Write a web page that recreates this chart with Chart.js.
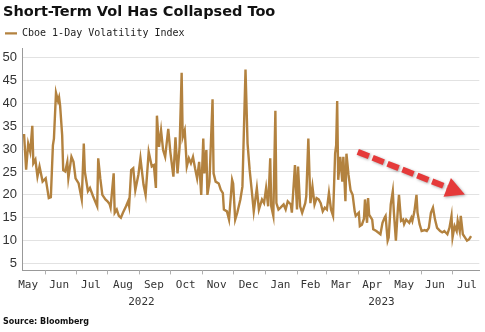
<!DOCTYPE html>
<html><head><meta charset="utf-8">
<script src="https://cdn.jsdelivr.net/npm/chart.js@4.4.0/dist/chart.umd.min.js"></script>
<style>html,body{margin:0;padding:0;background:#fff;}#wrap{width:485px;height:332px;position:relative;}</style>
</head><body><div id="wrap"><canvas id="c"></canvas></div>
<script>
const dates = ["2022-05-12","2022-05-14","2022-05-16","2022-05-18","2022-05-20","2022-05-21","2022-05-23","2022-05-25","2022-05-27","2022-05-30",
"2022-06-02","2022-06-05","2022-06-07","2022-06-09","2022-06-10","2022-06-12","2022-06-14","2022-06-15","2022-06-16","2022-06-18",
"2022-06-19","2022-06-21","2022-06-23","2022-06-24","2022-06-27","2022-06-29","2022-07-01","2022-07-04","2022-07-07","2022-07-09",
"2022-07-10","2022-07-13","2022-07-15","2022-07-18","2022-07-20","2022-07-22","2022-07-23","2022-07-25","2022-07-27","2022-07-30",
"2022-08-01","2022-08-03","2022-08-04","2022-08-07","2022-08-08","2022-08-10","2022-08-12","2022-08-14","2022-08-16","2022-08-19",
"2022-08-21","2022-08-22","2022-08-24","2022-08-26","2022-08-28","2022-08-31","2022-09-02","2022-09-05","2022-09-07","2022-09-10",
"2022-09-13","2022-09-15","2022-09-17","2022-09-18","2022-09-20","2022-09-22","2022-09-24","2022-09-26","2022-09-29","2022-10-01",
"2022-10-04","2022-10-06","2022-10-08","2022-10-10","2022-10-12","2022-10-13","2022-10-15","2022-10-17","2022-10-19","2022-10-21",
"2022-10-23","2022-10-25","2022-10-27","2022-10-29","2022-10-31","2022-11-02","2022-11-03","2022-11-05","2022-11-06","2022-11-08",
"2022-11-11","2022-11-12","2022-11-14","2022-11-17","2022-11-19","2022-11-21","2022-11-22","2022-11-25","2022-11-27","2022-11-30",
"2022-12-01","2022-12-03","2022-12-05","2022-12-08","2022-12-10","2022-12-13","2022-12-15","2022-12-17","2022-12-19","2022-12-21",
"2022-12-24","2022-12-26","2022-12-29","2022-12-31","2023-01-02","2023-01-04","2023-01-06","2023-01-07","2023-01-09","2023-01-11",
"2023-01-12","2023-01-14","2023-01-16","2023-01-19","2023-01-21","2023-01-23","2023-01-26","2023-01-27","2023-01-30","2023-02-01",
"2023-02-02","2023-02-04","2023-02-06","2023-02-09","2023-02-10","2023-02-12","2023-02-14","2023-02-16","2023-02-18","2023-02-20",
"2023-02-22","2023-02-24","2023-02-26","2023-02-28","2023-03-02","2023-03-04","2023-03-06","2023-03-08","2023-03-10","2023-03-11",
"2023-03-12","2023-03-13","2023-03-15","2023-03-17","2023-03-18","2023-03-20","2023-03-21","2023-03-23","2023-03-25","2023-03-27",
"2023-03-29","2023-03-30","2023-04-02","2023-04-03","2023-04-05","2023-04-07","2023-04-08","2023-04-10","2023-04-11","2023-04-12",
"2023-04-15","2023-04-16","2023-04-19","2023-04-23","2023-04-25","2023-04-27","2023-04-28","2023-04-30","2023-05-01","2023-05-03",
"2023-05-05","2023-05-06","2023-05-08","2023-05-10","2023-05-11","2023-05-13","2023-05-15","2023-05-16","2023-05-18","2023-05-21",
"2023-05-23","2023-05-24","2023-05-26","2023-05-28","2023-05-29","2023-05-31","2023-06-02","2023-06-05","2023-06-07","2023-06-09",
"2023-06-11","2023-06-13","2023-06-15","2023-06-17","2023-06-20","2023-06-22","2023-06-24","2023-06-27","2023-06-29","2023-07-01",
"2023-07-02","2023-07-04","2023-07-06","2023-07-07","2023-07-09","2023-07-10","2023-07-12","2023-07-14","2023-07-16","2023-07-18",
"2023-07-20"];
const values = [33.3,25.5,31.2,29.4,35.1,26.9,27.7,24.0,26.2,22.9,
23.6,19.3,19.5,30.8,32.3,42.3,40.5,41.3,39.5,33.0,
25.4,25.1,27.2,23.6,28.3,27.2,23.6,22.5,19.0,31.2,
25.1,20.8,21.5,19.7,18.6,17.5,28.0,23.6,20.0,19.0,
18.6,18.0,17.2,24.7,16.1,16.8,15.4,15.0,16.1,17.5,
18.6,17.5,25.4,25.8,21.0,24.4,28.0,22.2,20.0,29.4,
26.2,26.5,21.5,37.3,30.5,34.1,29.8,28.3,34.4,29.4,
24.0,32.6,24.7,30.5,46.7,32.6,34.1,26.2,28.0,26.9,
28.3,25.8,23.6,27.2,20.0,32.3,24.7,29.8,20.0,22.9,
40.9,24.7,22.9,22.5,21.1,20.4,16.8,16.4,14.6,23.3,
22.5,14.6,16.1,19.0,21.8,47.4,31.2,25.5,21.1,16.4,
21.5,16.8,19.0,18.2,21.5,17.5,28.0,17.5,15.4,38.4,
18.2,16.8,17.2,17.9,16.8,18.6,17.9,16.1,26.5,16.8,
26.2,17.5,16.1,18.2,19.7,32.3,18.2,21.8,17.9,19.3,
19.0,18.2,16.4,17.2,16.8,20.4,16.8,15.4,29.0,30.8,
40.5,23.3,28.3,22.9,28.3,18.6,29.0,24.4,21.0,20.0,
16.4,15.4,16.1,13.2,13.5,14.8,19.0,13.9,19.3,15.7,
14.6,12.5,12.1,11.4,13.9,15.0,15.4,10.0,10.7,17.9,
20.8,16.4,10.0,17.2,20.0,14.3,14.6,13.6,14.6,13.9,
15.0,14.3,16.4,20.0,16.1,13.6,12.1,12.3,12.1,12.8,
16.1,17.2,14.6,12.8,12.1,11.8,12.1,11.4,12.8,15.4,
10.7,13.2,12.1,14.3,12.1,15.4,11.4,10.7,10.0,10.3,
11.0];
const seriesName = "Cboe 1-Day Volatility Index";
const monthLabels = ["May","Jun","Jul","Aug","Sep","Oct","Nov","Dec","Jan","Feb","Mar","Apr","May","Jun","Jul"];
const monthMidDates = ["2022-05-16","2022-06-15","2022-07-16","2022-08-16","2022-09-15","2022-10-16","2022-11-15","2022-12-16",
"2023-01-16","2023-02-14","2023-03-16","2023-04-15","2023-05-16","2023-06-15","2023-07-16"];
const monthStartDates = ["2022-06-01","2022-07-01","2022-08-01","2022-09-01","2022-10-01","2022-11-01","2022-12-01",
"2023-01-01","2023-02-01","2023-03-01","2023-04-01","2023-05-01","2023-06-01","2023-07-01"];
const yearLabels = ["2022","2023"];
const yearLabelDates = ["2022-09-03","2023-04-24"];
const yTicks = [5,10,15,20,25,30,35,40,45,50];
const xRange = ["2022-05-10","2023-07-28"];
const yRange = [3.5,52];
const trendArrow = {from:["2023-04-01",29.4], to:["2023-07-14",20.1]};

const dayNum = s => Date.UTC(+s.slice(0,4), +s.slice(5,7)-1, +s.slice(8,10)) / 864e5;

const arrowPlugin = {
  id:'trendArrow',
  afterDatasetsDraw(chart){
    const {ctx, scales:{x, y}} = chart;
    const x1 = x.getPixelForValue(dayNum(trendArrow.from[0])), y1 = y.getPixelForValue(trendArrow.from[1]);
    const x2 = x.getPixelForValue(dayNum(trendArrow.to[0])), y2 = y.getPixelForValue(trendArrow.to[1]);
    const a = Math.atan2(y2-y1, x2-x1);
    const hl = 19, hw = 10;
    const bx = x2 - Math.cos(a)*hl, by = y2 - Math.sin(a)*hl;
    ctx.save();
    ctx.shadowColor = 'rgba(0,0,0,0.35)'; ctx.shadowBlur = 3; ctx.shadowOffsetX = 1; ctx.shadowOffsetY = 1;
    ctx.strokeStyle = '#e53a3a'; ctx.lineWidth = 6; ctx.setLineDash([12,4]);
    ctx.beginPath(); ctx.moveTo(x1,y1); ctx.lineTo(bx,by); ctx.stroke();
    ctx.setLineDash([]);
    ctx.fillStyle = '#e53a3a';
    ctx.beginPath(); ctx.moveTo(x2,y2);
    ctx.lineTo(bx + Math.sin(a)*hw, by - Math.cos(a)*hw);
    ctx.lineTo(bx - Math.sin(a)*hw, by + Math.cos(a)*hw);
    ctx.closePath(); ctx.fill();
    ctx.restore();
  }
};
const monthTickPlugin = {
  id:'monthTicks',
  afterDraw(chart){
    const {ctx, chartArea, scales:{x}} = chart;
    ctx.save(); ctx.strokeStyle = '#b0b0b0'; ctx.lineWidth = 1;
    monthStartDates.forEach(d => {
      const px = Math.round(x.getPixelForValue(dayNum(d))) + 0.5;
      ctx.beginPath(); ctx.moveTo(px, chartArea.bottom); ctx.lineTo(px, chartArea.bottom + 4); ctx.stroke();
    });
    ctx.restore();
  }
};

const xMin = dayNum(xRange[0]), xMax = dayNum(xRange[1]);
new Chart(document.getElementById('c'), {
  type:'line',
  data:{datasets:[{label:seriesName, data:dates.map((d,i)=>({x:dayNum(d), y:values[i]})),
    borderColor:'#b3823f', backgroundColor:'#b3823f', borderWidth:2.4, pointRadius:0, tension:0, fill:false}]},
  options:{
    responsive:true, maintainAspectRatio:false, animation:false,
    layout:{padding:{left:3,right:4,top:1,bottom:5}},
    plugins:{
      title:{display:true, text:'Short-Term Vol Has Collapsed Too', align:'start', color:'#111',
        font:{family:'DejaVu Sans', size:14.5, weight:'bold'}, padding:{top:3,bottom:5}},
      legend:{display:true, align:'start', labels:{usePointStyle:true, pointStyle:'line', pointStyleWidth:12, padding:2,
        color:'#222', font:{family:'DejaVu Sans Mono', size:10}}},
      subtitle:{display:true, position:'bottom', text:'Source: Bloomberg', align:'start', color:'#111',
        font:{family:'DejaVu Sans', size:8, weight:'bold'}, padding:{top:9,bottom:0}},
      tooltip:{enabled:false}
    },
    scales:{
      x:{type:'linear', position:'bottom', min:xMin, max:xMax,
        afterBuildTicks:s=>{ s.ticks = monthMidDates.map(d=>({value:dayNum(d)})); },
        ticks:{callback:(v,i)=>monthLabels[i], autoSkip:false, maxRotation:0, padding:8, color:'#333',
          font:{family:'DejaVu Sans Mono', size:11}},
        grid:{display:false, drawTicks:false}, border:{display:true, color:'#999'},
        afterFit:s=>{ s.height = 22; }},
      xy:{type:'linear', position:'bottom', min:xMin, max:xMax,
        afterBuildTicks:s=>{ s.ticks = yearLabelDates.map(d=>({value:dayNum(d)})); },
        ticks:{callback:(v,i)=>yearLabels[i], autoSkip:false, maxRotation:0, padding:3, color:'#333',
          font:{family:'DejaVu Sans Mono', size:11}},
        grid:{display:false, drawTicks:false}, border:{display:false},
        afterFit:s=>{ s.height = 16; }},
      y:{min:yRange[0], max:yRange[1],
        afterBuildTicks:s=>{ s.ticks = yTicks.map(v=>({value:v})); },
        ticks:{callback:v=>v, padding:5, color:'#333', font:{family:'Liberation Sans', size:13}},
        grid:{color:'#e2e2e2', drawTicks:false}, border:{display:true, color:'#999'},
        afterFit:s=>{ s.width = 19; }}
    }
  },
  plugins:[arrowPlugin, monthTickPlugin]
});
</script></body></html>
